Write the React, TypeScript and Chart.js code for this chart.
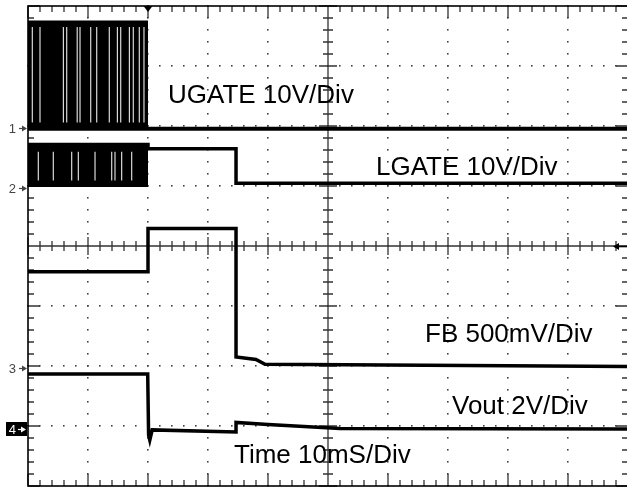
import React, { useEffect, useRef } from "react";
import { Chart, registerables } from "chart.js";

Chart.register(...registerables);

// ---- Scope timebase / graticule (10 ms/div, 10 x 8 divisions) ----
const timeDivisionsMs = [0, 10, 20, 30, 40, 50, 60, 70, 80, 90, 100];
const verticalDivisions = [-4, -3, -2, -1, 0, 1, 2, 3, 4];
const minorPerDivision = 5;
const triggerTimeMs = 20;

// ---- Channel settings ----
const channelVoltsPerDiv = [10, 10, 0.5, 2];
const channelGroundDiv = [1.97, 0.97, -2.03, -3.05];
const channelMarkers = ["1", "2", "3", "4"];
const channelLabels = ["UGATE 10V/Div", "LGATE 10V/Div", "FB 500mV/Div", "Vout 2V/Div"];
const timebaseLabel = "Time 10mS/Div";

// ---- CH1 UGATE (V) ----
const ugateBurstTimeMs = [0, 20];
const ugateBurstHighV = [17.7, 17.7];
const ugateTimeMs = [0, 100];
const ugateVolts = [-0.15, -0.15];
const ugateGapTimesMs = [0.72, 2.0, 5.9, 6.45, 8.2, 8.67, 10.45, 11.45, 13.55, 14.9, 15.45, 16.9, 17.55, 18.55, 19.33];
const ugateGapV = [0.9, 16.8];

// ---- CH2 LGATE (V) ----
const lgateBurstTimeMs = [0, 20];
const lgateBurstHighV = [7.2, 7.2];
const lgateBurstLowV = [0.4, 0.4];
const lgateTimeMs = [0, 20, 20, 34.67, 34.67, 100];
const lgateVolts = [7.2, 7.2, 6.5, 6.5, 0.75, 0.75];
const lgateGapTimesMs = [1.72, 4.22, 7.28, 8.39, 11.17, 13.95, 14.5, 15.61, 17.28];
const lgateGapV = [1.2, 6.0];

// ---- CH3 FB (V) ----
const fbTimeMs = [0, 20, 20, 34.67, 34.67, 38.0, 39.5, 100];
const fbVolts = [0.8, 0.8, 1.16, 1.16, 0.09, 0.07, 0.03, 0.01];

// ---- CH4 Vout (V) ----
const voutTimeMs = [0, 19.95, 20.1, 20.3, 20.7, 34.67, 34.67, 40, 46, 52, 100];
const voutVolts = [1.83, 1.83, -0.2, -0.37, -0.03, -0.1, 0.22, 0.15, 0.08, 0.02, 0.0];

const toDiv = (ch: number, v: number) => channelGroundDiv[ch] + v / channelVoltsPerDiv[ch];
const pts = (ts: number[], vs: number[], ch: number) => ts.map((t, i) => ({ x: t, y: toDiv(ch, vs[i]) }));
const gapPts = (ts: number[], ch: number, range: number[]) =>
  ts.flatMap((t) => [
    { x: t, y: toDiv(ch, range[0]) },
    { x: t, y: toDiv(ch, range[1]) },
    { x: t, y: null as any },
  ]);

const LABEL_FONT = '26px "Liberation Sans", Arial, sans-serif';
const MARK_FONT = '13px "Liberation Sans", Arial, sans-serif';

const graticule = {
  id: "graticule",
  beforeDatasetsDraw(chart: any) {
    const { ctx, chartArea: a, scales } = chart;
    const xs = scales.x;
    const ys = scales.y;
    const xMin = timeDivisionsMs[0];
    const xMax = timeDivisionsMs[timeDivisionsMs.length - 1];
    const xStep = (timeDivisionsMs[1] - timeDivisionsMs[0]) / minorPerDivision;
    const yMin = verticalDivisions[0];
    const yMax = verticalDivisions[verticalDivisions.length - 1];
    const yStep = 1 / minorPerDivision;
    const xCenter = (xMin + xMax) / 2;
    const yCenter = (yMin + yMax) / 2;
    const xMinor: number[] = [];
    for (let i = 0; xMin + i * xStep <= xMax + 1e-9; i++) xMinor.push(xMin + i * xStep);
    const yMinor: number[] = [];
    for (let i = 0; yMin + i * yStep <= yMax + 1e-9; i++) yMinor.push(yMin + i * yStep);
    const isMajorX = (t: number) => Math.abs(t / 10 - Math.round(t / 10)) < 1e-6;
    const isMajorY = (d: number) => Math.abs(d - Math.round(d)) < 1e-6;

    ctx.save();
    // dotted graticule lines
    ctx.fillStyle = "#444";
    for (const t of timeDivisionsMs) {
      if (t === xMin || t === xMax || t === xCenter) continue;
      const px = Math.round(xs.getPixelForValue(t));
      for (const d of yMinor) {
        const py = Math.round(ys.getPixelForValue(d));
        ctx.fillRect(px - 1, py - 1, 1.6, 1.6);
      }
    }
    for (const d of verticalDivisions) {
      if (d === yMin || d === yMax || d === yCenter) continue;
      const py = Math.round(ys.getPixelForValue(d));
      for (const t of xMinor) {
        const px = Math.round(xs.getPixelForValue(t));
        ctx.fillRect(px - 1, py - 1, 1.6, 1.6);
      }
    }
    // centre cross
    ctx.strokeStyle = "#333";
    ctx.lineWidth = 1.3;
    const cx = xs.getPixelForValue(xCenter);
    const cy = ys.getPixelForValue(yCenter);
    ctx.beginPath();
    ctx.moveTo(cx, a.top);
    ctx.lineTo(cx, a.bottom);
    ctx.moveTo(a.left, cy);
    ctx.lineTo(a.right, cy);
    for (const t of xMinor) {
      const px = xs.getPixelForValue(t);
      const h = isMajorX(t) ? 9 : 5;
      ctx.moveTo(px, cy - h);
      ctx.lineTo(px, cy + h);
      const b = isMajorX(t) ? 12 : 6;
      ctx.moveTo(px, a.top);
      ctx.lineTo(px, a.top + b);
      ctx.moveTo(px, a.bottom);
      ctx.lineTo(px, a.bottom - b);
    }
    for (const d of yMinor) {
      const py = ys.getPixelForValue(d);
      const h = isMajorY(d) ? 9 : 5;
      ctx.moveTo(cx - h, py);
      ctx.lineTo(cx + h, py);
      const b = isMajorY(d) ? 12 : 6;
      ctx.moveTo(a.left, py);
      ctx.lineTo(a.left + b, py);
      ctx.moveTo(a.right, py);
      ctx.lineTo(a.right - b, py);
    }
    ctx.stroke();
    // frame
    ctx.strokeStyle = "#000";
    ctx.lineWidth = 1.6;
    ctx.strokeRect(a.left, a.top, a.right - a.left, a.bottom - a.top);
    ctx.restore();
  },
  afterDraw(chart: any) {
    const { ctx, chartArea: a, scales } = chart;
    const xs = scales.x;
    const ys = scales.y;
    ctx.save();
    // labels
    ctx.font = LABEL_FONT;
    ctx.fillStyle = "#000";
    ctx.textBaseline = "alphabetic";
    ctx.textAlign = "left";
    const labelPos = [
      [168, 103],
      [376, 175],
      [425, 342],
      [452, 414],
    ];
    channelLabels.forEach((s, i) => ctx.fillText(s, labelPos[i][0], labelPos[i][1]));
    ctx.fillText(timebaseLabel, 234, 463);

    // channel markers
    const arrowRight = (x0: number, x1: number, y: number, col: string) => {
      ctx.strokeStyle = col;
      ctx.fillStyle = col;
      ctx.lineWidth = 1.2;
      ctx.beginPath();
      ctx.moveTo(x0, y);
      ctx.lineTo(x1 - 3, y);
      ctx.stroke();
      ctx.beginPath();
      ctx.moveTo(x1, y);
      ctx.lineTo(x1 - 5, y - 3);
      ctx.lineTo(x1 - 5, y + 3);
      ctx.closePath();
      ctx.fill();
    };
    ctx.font = MARK_FONT;
    ctx.textAlign = "right";
    channelMarkers.forEach((m, i) => {
      const py = Math.round(ys.getPixelForValue(channelGroundDiv[i]));
      if (i === 3) {
        ctx.fillStyle = "#000";
        ctx.fillRect(6, py - 7, 21, 14);
        ctx.fillStyle = "#fff";
        ctx.fillText(m, 16, py + 5);
        arrowRight(18, 26, py + 0.5, "#fff");
      } else {
        ctx.fillStyle = "#444";
        ctx.fillText(m, 16, py + 5);
        arrowRight(19, a.left - 1, py + 0.5, "#444");
      }
    });
    // trigger position marker
    const tx = xs.getPixelForValue(triggerTimeMs);
    ctx.fillStyle = "#000";
    ctx.beginPath();
    ctx.moveTo(tx - 4.5, a.top);
    ctx.lineTo(tx + 4.5, a.top);
    ctx.lineTo(tx, a.top + 6);
    ctx.closePath();
    ctx.fill();
    // trigger level arrow (right edge)
    const ly = Math.round(ys.getPixelForValue(0)) + 0.5;
    ctx.strokeStyle = "#000";
    ctx.lineWidth = 1.6;
    ctx.beginPath();
    ctx.moveTo(617, ly);
    ctx.lineTo(627, ly);
    ctx.stroke();
    ctx.beginPath();
    ctx.moveTo(613, ly);
    ctx.lineTo(619, ly - 3.5);
    ctx.lineTo(619, ly + 3.5);
    ctx.closePath();
    ctx.fill();
    ctx.restore();
  },
};

export default function App() {
  const ref = useRef<HTMLCanvasElement>(null);
  useEffect(() => {
    if (!ref.current) return;
    const black = "#000";
    const line = (data: any[], width: number, order: number, extra: any = {}) => ({
      type: "line",
      data,
      borderColor: black,
      backgroundColor: black,
      borderWidth: width,
      pointRadius: 0,
      tension: 0,
      fill: false,
      order,
      spanGaps: false,
      ...extra,
    });
    const chart = new Chart(ref.current, {
      type: "line",
      data: {
        datasets: [
          line(pts(ugateBurstTimeMs, ugateBurstHighV, 0), 2, 6, {
            fill: { value: toDiv(0, ugateVolts[0]) },
          }),
          line(gapPts(ugateGapTimesMs, 0, ugateGapV), 1.2, 5, { borderColor: "#d8d8d8" }),
          line(pts(ugateTimeMs, ugateVolts, 0), 4, 1),
          line(pts(lgateBurstTimeMs, lgateBurstHighV, 1), 2, 6, {
            fill: { value: toDiv(1, lgateBurstLowV[0]) },
          }),
          line(gapPts(lgateGapTimesMs, 1, lgateGapV), 1.2, 5, { borderColor: "#d8d8d8" }),
          line(pts(lgateBurstTimeMs, lgateBurstLowV, 1), 3, 1),
          line(pts(lgateTimeMs, lgateVolts, 1), 3.5, 1),
          line(pts(fbTimeMs, fbVolts, 2), 3.5, 1),
          line(pts(voutTimeMs, voutVolts, 3), 3.5, 1),
        ] as any,
      },
      options: {
        animation: false,
        responsive: false,
        events: [],
        layout: { padding: { left: 28, top: 6, right: 0, bottom: 3 } },
        plugins: { legend: { display: false }, tooltip: { enabled: false } },
        scales: {
          x: {
            type: "linear",
            display: false,
            offset: false,
            min: timeDivisionsMs[0],
            max: timeDivisionsMs[timeDivisionsMs.length - 1],
          },
          y: {
            type: "linear",
            display: false,
            min: verticalDivisions[0],
            max: verticalDivisions[verticalDivisions.length - 1],
          },
        },
      },
      plugins: [graticule],
    } as any);
    return () => chart.destroy();
  }, []);
  return (
    <div
      style={{
        position: "fixed",
        left: 0,
        top: 0,
        width: 627,
        height: 489,
        overflow: "hidden",
        background: "#fff",
      }}
    >
      <canvas ref={ref} width={628} height={489} style={{ display: "block" }} />
    </div>
  );
}
